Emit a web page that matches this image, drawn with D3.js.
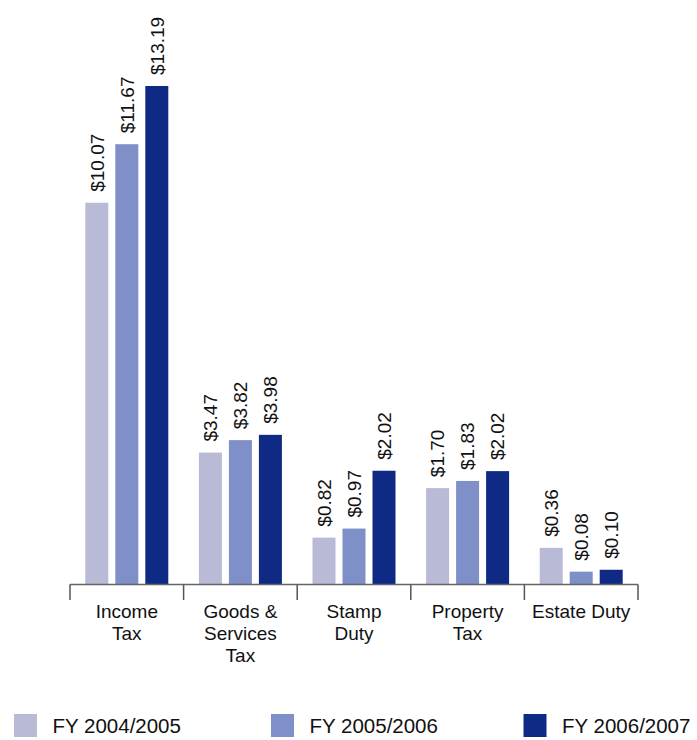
<!DOCTYPE html>
<html>
<head>
<meta charset="utf-8">
<script src="https://cdn.jsdelivr.net/npm/d3@7"></script>
<style>
  html, body { margin: 0; padding: 0; background: #fff; }
  svg { display: block; font-family: "Liberation Sans", Arial, Helvetica, sans-serif; }
</style>
</head>
<body>
<svg id="chart" width="697" height="740"></svg>
<script>
// Categories (multi-line labels)
const categories = ["Income Tax", "Goods & Services Tax", "Stamp Duty", "Property Tax", "Estate Duty"];
const categoryLines = [["Income", "Tax"], ["Goods &", "Services", "Tax"], ["Stamp", "Duty"], ["Property", "Tax"], ["Estate Duty"]];

// Series names
const seriesNames = ["FY 2004/2005", "FY 2005/2006", "FY 2006/2007"];

// Printed values (labels on the bars, $)
const labels0405 = [10.07, 3.47, 0.82, 1.70, 0.36];
const labels0506 = [11.67, 3.82, 0.97, 1.83, 0.08];
const labels0607 = [13.19, 3.98, 2.02, 2.02, 0.10];

// Bar lengths as drawn in the picture (same $ units)
const bars0405 = [10.10, 3.49, 1.24, 2.55, 0.97];
const bars0506 = [11.65, 3.82, 1.48, 2.74, 0.34];
const bars0607 = [13.19, 3.96, 3.01, 3.00, 0.39];

const colors = ["#b8bad6", "#7f8fc8", "#0f2a84"];

const barSeries = [bars0405, bars0506, bars0607];
const labelSeries = [labels0405, labels0506, labels0607];

const svg = d3.select("#chart");

const baseY = 584.5;
const x0 = d3.scaleBand().domain(categories).range([70, 638]).paddingInner(0).paddingOuter(0);
const x1 = d3.scaleBand().domain(seriesNames).range([0, x0.bandwidth()]).paddingInner(0.2333).paddingOuter(0.51);
const y = d3.scaleLinear().domain([0, d3.max(bars0607)]).range([baseY, 86]);

const fmt = d3.format("$.2f");

// Bars
const groups = svg.append("g").selectAll("g")
  .data(categories)
  .join("g")
  .attr("transform", d => `translate(${x0(d)},0)`);

groups.each(function(cat, ci) {
  const g = d3.select(this);
  seriesNames.forEach((s, si) => {
    const v = barSeries[si][ci];
    g.append("rect")
      .attr("x", x1(s))
      .attr("y", y(v))
      .attr("width", x1.bandwidth())
      .attr("height", baseY - y(v))
      .attr("fill", colors[si]);
    const cx = x1(s) + x1.bandwidth() / 2;
    g.append("text")
      .attr("transform", `translate(${cx},${y(v) - 11}) rotate(-90)`)
      .attr("dy", "0.36em")
      .attr("text-anchor", "start")
      .attr("font-size", 19)
      .attr("fill", "#111")
      .text(fmt(labelSeries[si][ci]));
  });
});

// Axis line and boundary ticks
const axis = svg.append("g");
axis.append("line")
  .attr("x1", x0.range()[0]).attr("x2", x0.range()[1])
  .attr("y1", baseY).attr("y2", baseY)
  .attr("stroke", "#666").attr("stroke-width", 1.5);
const bounds = categories.map(c => x0(c)).concat([x0.range()[1]]);
axis.selectAll("line.tick")
  .data(bounds)
  .join("line")
  .attr("class", "tick")
  .attr("x1", d => d).attr("x2", d => d)
  .attr("y1", baseY).attr("y2", 600)
  .attr("stroke", "#555").attr("stroke-width", 1.5);

// Category labels
categories.forEach((c, ci) => {
  const t = svg.append("text")
    .attr("x", x0(c) + x0.bandwidth() / 2)
    .attr("y", 618.3)
    .attr("text-anchor", "middle")
    .attr("font-size", 19)
    .attr("fill", "#111");
  categoryLines[ci].forEach((line, li) => {
    t.append("tspan")
      .attr("x", x0(c) + x0.bandwidth() / 2)
      .attr("dy", li === 0 ? 0 : 21.7)
      .text(line);
  });
});

// Legend
const legendX = [14, 271, 523.5];
const legend = svg.append("g");
seriesNames.forEach((s, i) => {
  legend.append("rect")
    .attr("x", legendX[i]).attr("y", 714)
    .attr("width", 23).attr("height", 23)
    .attr("fill", colors[i]);
  legend.append("text")
    .attr("x", legendX[i] + 38.5).attr("y", 733)
    .attr("font-size", 20.5)
    .attr("fill", "#111")
    .text(s);
});
</script>
</body>
</html>
